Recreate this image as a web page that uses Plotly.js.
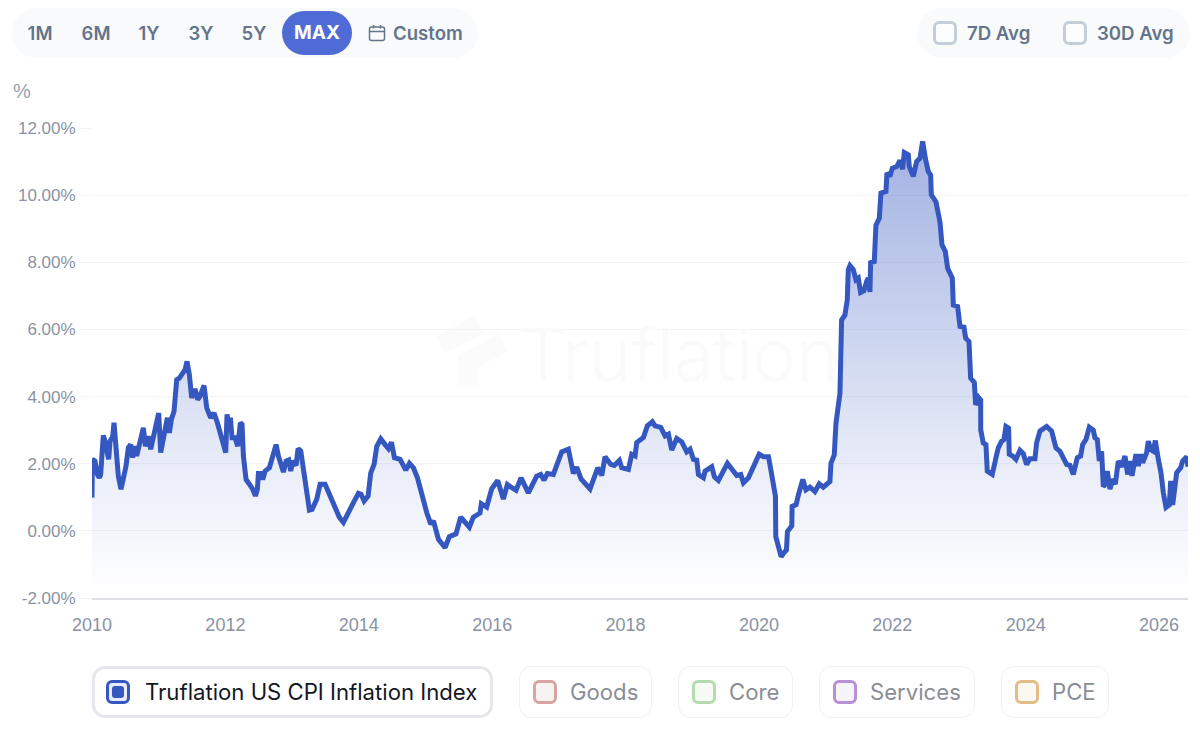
<!DOCTYPE html>
<html><head><meta charset="utf-8">
<script src="https://cdn.plot.ly/plotly-3.0.1.min.js"></script>
<style>
html,body{margin:0;padding:0;background:#fff;width:1200px;height:747px;overflow:hidden;font-family:Inter,sans-serif}
#chart{position:absolute;left:0;top:0;width:1200px;height:747px}
.abs{position:absolute;box-sizing:border-box}
.pill{background:#f8fafc;border-radius:25px;top:8px;height:50px}
.rng{top:11px;height:44px;line-height:44px;text-align:center;font-size:18.5px;font-weight:600;color:#64748b;transform:translateX(-50%);white-space:nowrap}
.max{left:282px;top:11px;width:70px;height:44px;border-radius:22px;background:#4f6cd6;color:#fff;text-align:center;line-height:44px;font-size:19px;font-weight:700}
.cb{width:24px;height:24px;border-radius:6px;border:3px solid #c5ced6;background:#fbfcfd;top:21px}
.lab{top:11px;height:44px;line-height:44px;font-size:18.6px;font-weight:600;color:#64748b;white-space:nowrap}
.box{top:666px;height:52px;border:1.5px solid #f0f1f4;border-radius:13px;background:#fff}
.box.on{border:3px solid #e6e7ec}
.lc{top:680px;width:24px;height:24px;border-radius:6px;border-width:3px;border-style:solid}
.lt{top:666px;height:52px;line-height:52px;font-size:22.15px;color:#8a8d94;white-space:nowrap}
</style></head><body>
<svg class="abs" style="left:0;top:0" width="1200" height="747" fill="none" stroke="#fbfbfb" stroke-width="20"><path d="M440 345L478 325M503 342L468 362V385"/></svg>
<div id="chart"></div>
<div id="ui"></div>
<script>
// Decimal years and index values (%)
const years = [2010.00,2010.005,2010.045,2010.08,2010.11,2010.13,2010.155,2010.17,2010.195,2010.22,2010.25,2010.27,2010.31,2010.33,2010.36,2010.395,2010.435,2010.47,2010.51,2010.545,2010.58,2010.61,2010.64,2010.67,2010.71,2010.77,2010.80,2010.845,2010.88,2010.92,2010.97,
2011.00,2011.03,2011.095,2011.13,2011.16,2011.19,2011.23,2011.27,2011.31,2011.36,2011.395,2011.425,2011.46,2011.495,2011.545,2011.585,2011.62,2011.68,2011.72,2011.78,2011.83,2011.88,2011.945,
2012.005,2012.025,2012.055,2012.075,2012.10,2012.145,2012.185,2012.225,2012.25,2012.27,2012.31,2012.36,2012.41,2012.45,2012.48,2012.495,2012.53,2012.56,2012.595,2012.66,2012.71,2012.76,2012.795,2012.83,2012.87,2012.91,2012.95,2012.98,
2013.01,2013.06,2013.09,2013.13,2013.17,2013.21,2013.26,2013.30,2013.37,2013.42,2013.495,2013.56,2013.645,2013.71,2013.77,2013.845,2013.92,2013.995,
2014.035,2014.08,2014.14,2014.18,2014.23,2014.27,2014.33,2014.395,2014.445,2014.49,2014.535,2014.62,2014.705,2014.76,2014.82,2014.88,2014.945,
2015.02,2015.08,2015.12,2015.195,2015.295,2015.358,2015.458,2015.528,2015.593,2015.658,2015.718,2015.818,2015.838,2015.918,2015.993,
2016.083,2016.168,2016.228,2016.278,2016.358,2016.433,2016.543,2016.668,2016.728,2016.778,2016.828,2016.918,2016.993,
2017.043,2017.143,2017.218,2017.268,2017.333,2017.468,2017.583,2017.643,2017.693,2017.778,2017.833,2017.908,2017.943,
2018.043,2018.093,2018.143,2018.168,2018.268,2018.328,2018.403,2018.443,2018.528,2018.593,2018.643,2018.693,2018.768,2018.843,2018.918,2018.968,
2019.018,2019.068,2019.093,2019.168,2019.193,2019.293,2019.333,2019.393,2019.528,2019.608,2019.668,2019.728,2019.768,2019.843,2019.918,
2020.003,2020.068,2020.143,2020.178,2020.218,2020.248,2020.253,2020.293,2020.333,2020.368,2020.413,2020.428,2020.493,2020.498,2020.558,2020.593,2020.658,2020.705,2020.765,2020.84,2020.905,2020.965,
2021.015,2021.065,2021.08,2021.13,2021.155,2021.2,2021.215,2021.24,2021.29,2021.325,2021.34,2021.365,2021.415,2021.455,2021.49,2021.525,2021.575,2021.615,2021.64,2021.665,2021.675,2021.73,2021.755,2021.805,2021.83,2021.905,2021.92,2021.965,
2022.0,2022.065,2022.115,2022.155,2022.18,2022.24,2022.255,2022.315,2022.365,2022.415,2022.455,2022.5,2022.54,2022.575,2022.585,2022.655,2022.68,2022.715,2022.745,2022.795,2022.83,2022.9,2022.915,2022.98,
2023.015,2023.075,2023.1,2023.15,2023.175,2023.23,2023.25,2023.295,2023.325,2023.326,2023.364,2023.404,2023.424,2023.499,2023.554,2023.589,2023.639,2023.674,2023.704,2023.744,2023.754,2023.804,2023.854,2023.914,2023.964,
2024.014,2024.064,2024.139,2024.164,2024.214,2024.314,2024.389,2024.454,2024.514,2024.614,2024.664,2024.714,2024.774,2024.824,2024.854,2024.904,2024.954,
2025.014,2025.039,2025.074,2025.104,2025.139,2025.164,2025.204,2025.224,2025.264,2025.304,2025.344,2025.389,2025.439,2025.489,2025.529,2025.564,2025.594,2025.654,2025.689,2025.724,2025.754,2025.814,2025.839,2025.874,2025.914,2025.944,2025.989,
2026.029,2026.064,2026.104,2026.154,2026.174,2026.204,2026.234,2026.264,2026.324,2026.354,2026.414,2026.434];
const inflation = [0.99,2.13,2.08,1.68,1.58,1.68,2.43,2.84,2.67,2.43,2.13,2.67,2.8,3.22,2.52,1.63,1.24,1.58,1.93,2.48,2.57,2.18,2.52,2.23,2.62,3.07,2.52,2.82,2.43,2.82,3.17,
3.51,2.33,3.02,3.37,2.92,3.32,3.56,4.5,4.55,4.7,4.8,5.05,4.65,3.96,4.23,3.91,4.01,4.33,3.66,3.37,3.51,3.22,2.77,
2.33,3.47,3.07,3.37,2.77,2.77,2.52,3.22,3.17,2.23,1.53,1.39,1.24,1.04,1.24,1.71,1.71,1.53,1.78,1.88,2.23,2.57,2.23,1.93,1.75,2.08,2.11,1.78,
2.08,1.95,2.45,2.38,1.83,1.44,0.62,0.64,0.94,1.39,1.39,1.09,0.74,0.40,0.25,0.59,0.84,1.12,
1.09,0.89,1.04,1.73,1.98,2.52,2.74,2.57,2.45,2.64,2.18,2.13,1.81,2.01,1.88,1.58,1.04,
0.54,0.2,0.3,-0.25,-0.5,-0.17,-0.09,0.41,0.28,0.11,0.41,0.53,0.81,0.71,1.25,
1.5,0.95,1.38,1.31,1.21,1.58,1.13,1.63,1.68,1.51,1.71,1.68,2.03,
2.35,2.43,1.71,1.9,1.55,1.25,1.88,1.65,2.21,1.98,1.95,2.1,1.88,
1.83,2.28,2.23,2.63,2.78,3.13,3.25,3.13,3.08,2.83,2.88,2.41,2.75,2.65,2.35,2.43,
2.13,2.11,1.68,1.58,1.78,1.91,1.61,1.5,2.01,1.83,1.65,1.68,1.43,1.58,1.88,
2.28,2.21,2.21,1.83,1.23,1.03,-0.17,-0.42,-0.77,-0.67,-0.57,-0.02,0.15,0.73,0.78,1.08,1.53,1.22,1.3,1.17,1.4,1.3,
1.4,1.47,2.01,2.26,3.2,3.95,4.1,6.28,6.43,6.88,7.78,7.9,7.78,7.48,7.53,7.1,7.15,7.43,7.53,7.12,7.99,8.02,9.11,9.31,10.06,10.11,10.66,10.56,
10.8,10.85,11.03,10.77,11.27,11.2,10.85,10.56,11.0,11.1,11.6,11.05,10.7,10.6,10.01,9.8,9.5,9.2,8.52,8.32,7.82,7.53,6.73,6.68,
6.09,6.07,5.74,5.64,4.55,4.42,3.75,3.97,3.9,3.01,2.62,2.57,1.78,1.68,2.18,2.47,2.67,2.72,3.11,3.06,2.28,2.23,2.13,2.4,2.3,
1.98,2.15,2.15,2.62,2.97,3.11,2.97,2.47,2.37,1.98,1.95,1.68,2.18,2.23,2.57,2.72,3.09,
3.0,2.77,2.72,2.08,2.37,1.32,1.4,1.78,1.24,1.54,1.39,2.08,1.91,2.23,1.68,2.08,1.64,2.28,1.93,2.28,2.03,2.33,2.67,2.42,2.37,2.69,2.13,
1.73,1.14,0.7,0.77,1.49,0.77,1.29,1.73,1.88,2.08,2.21,1.91];
const yearTicks = [2010,2012,2014,2016,2018,2020,2022,2024,2026];
const yearLabels = ["2010","2012","2014","2016","2018","2020","2022","2024","2026"];
const yTicks = [-2,0,2,4,6,8,10,12];
const yLabels = ["-2.00%","0.00%","2.00%","4.00%","6.00%","8.00%","10.00%","12.00%"];
const rangeButtons = [["1M",40],["6M",96],["1Y",149],["3Y",201],["5Y",254]];
const seriesButtons = [
 {name:"Goods",box:[519,133],cb:533,txt:570,bc:"#d9a5a2",bg:"#f8f3f3"},
 {name:"Core",box:[678,115],cb:692,txt:729,bc:"#b5d9b0",bg:"#f6f9f6"},
 {name:"Services",box:[819,156],cb:833,txt:870,bc:"#b98fd6",bg:"#f6f3fa"},
 {name:"PCE",box:[1001,108],cb:1015,txt:1052,bc:"#e3bc88",bg:"#fbf8f1"}];
const fillFloor = -1.6, xEnd = 2026.434;

const traces = [
 {x:[2010,xEnd],y:[fillFloor,fillFloor],mode:"lines",line:{width:0},hoverinfo:"skip",showlegend:false},
 {x:years,y:inflation,mode:"lines",name:"Truflation US CPI Inflation Index",
  line:{color:"#3557c0",width:5,shape:"linear"},
  fill:"tonexty",
  fillgradient:{type:"vertical",start:fillFloor,stop:11.6,
   colorscale:[[0,"rgba(53,87,192,0.01)"],[0.25,"rgba(53,87,192,0.10)"],[1,"rgba(53,87,192,0.46)"]]},
  showlegend:false}
];
const xFont = {family:"Liberation Sans, Arial, sans-serif",size:18,color:"#8a93a3"};
const yFont = {family:"Liberation Sans, Arial, sans-serif",size:17,color:"#8a93a3"};
const layout = {
 width:1200,height:747,margin:{l:92,r:12,t:128,b:149},
 paper_bgcolor:"rgba(0,0,0,0)",plot_bgcolor:"rgba(0,0,0,0)",showlegend:false,
 xaxis:{type:"linear",range:[2010,xEnd],tickmode:"array",tickvals:yearTicks,ticktext:yearLabels,tickfont:xFont,
  showgrid:false,zeroline:false,showline:true,linecolor:"#dcdfe4",linewidth:1.5,ticks:"outside",ticklen:10,tickcolor:"rgba(0,0,0,0)",automargin:false},
 yaxis:{range:[-2,12],tickmode:"array",tickvals:yTicks,ticktext:yLabels,tickfont:yFont,
  showgrid:true,gridcolor:"#f3f4f6",gridwidth:1,zeroline:false,showline:false,ticks:"outside",ticklen:12,tickcolor:"#f3f4f6",automargin:false},
 annotations:[
  {text:"%",xref:"paper",yref:"paper",x:(22-92)/1096,y:1+(128-91)/470,xanchor:"center",yanchor:"middle",showarrow:false,
   font:{family:"Liberation Sans, Arial, sans-serif",size:20,color:"#9aa3b2"}},
  {text:"Truflation",xref:"paper",yref:"paper",x:(518-92)/1096,y:1-(354-128)/470,xanchor:"left",yanchor:"middle",showarrow:false,
   font:{family:"Inter, sans-serif",size:73,color:"#fafafa",weight:300}}
 ]
};
Plotly.newPlot("chart",traces,layout,{displayModeBar:false,staticPlot:true});

// Control bar and legend buttons
let h = "";
h += '<div class="abs pill" style="left:12px;width:466px"></div>';
h += '<div class="abs pill" style="left:917px;width:273px"></div>';
rangeButtons.forEach(([t,x])=>{h+=`<div class="abs rng" style="left:${x}px">${t}</div>`;});
h += '<div class="abs max">MAX</div>';
h += '<svg class="abs" style="left:368px;top:24px" width="18" height="18" viewBox="0 0 18 18" fill="none" stroke="#64748b" stroke-width="1.5"><rect x="1.5" y="3" width="15" height="13.5" rx="2"/><path d="M1.5 7.5H16.5M5.5 1V4.5M12.5 1V4.5"/></svg>';
h += '<div class="abs lab" style="left:393px">Custom</div>';
h += '<div class="abs cb" style="left:933px"></div><div class="abs lab" style="left:967px">7D Avg</div>';
h += '<div class="abs cb" style="left:1063px"></div><div class="abs lab" style="left:1097px">30D Avg</div>';
h += '<div class="abs box on" style="left:92px;width:401px"></div>';
h += '<div class="abs lc" style="left:106px;border-color:#3557c0;background:#e8ecf8"></div>';
h += '<div class="abs" style="left:112px;top:686px;width:12px;height:12px;border-radius:3px;background:#3557c0"></div>';
h += '<div class="abs lt" style="left:145px;color:#14171f">Truflation US CPI Inflation Index</div>';
seriesButtons.forEach(s=>{
 h+=`<div class="abs box" style="left:${s.box[0]}px;width:${s.box[1]}px"></div>`;
 h+=`<div class="abs lc" style="left:${s.cb}px;border-color:${s.bc};background:${s.bg}"></div>`;
 h+=`<div class="abs lt" style="left:${s.txt}px">${s.name}</div>`;
});
document.getElementById("ui").innerHTML = h;
</script>
</body></html>
